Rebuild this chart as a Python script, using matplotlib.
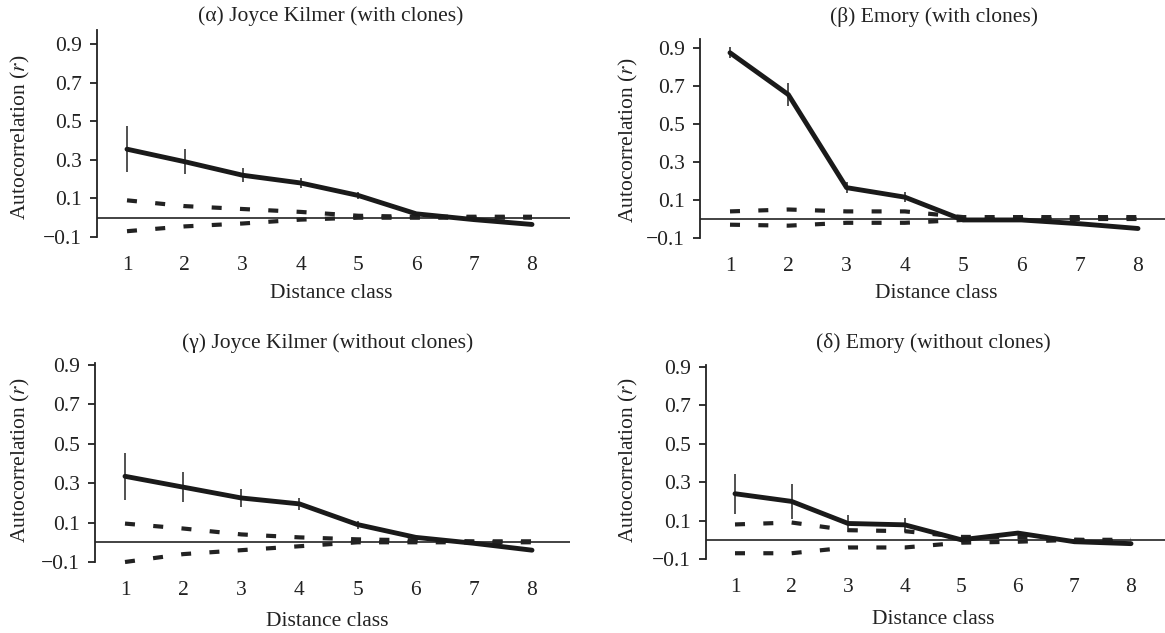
import matplotlib
matplotlib.use("Agg")
import matplotlib.pyplot as plt
import numpy as np

plt.rcParams['font.family'] = ['Liberation Serif', 'DejaVu Serif']
plt.rcParams['mathtext.fontset'] = 'stix'

# distance classes
dist = [1, 2, 3, 4, 5, 6, 7, 8]

# (a) Joyce Kilmer with clones
jk_clones_r = [0.355, 0.29, 0.22, 0.18, 0.115, 0.02, -0.01, -0.035]
jk_clones_err = [0.12, 0.065, 0.035, 0.025, 0.02, 0.0, 0.0, 0.0]
jk_clones_hi = [0.09, 0.06, 0.045, 0.03, 0.01, 0.005, 0.005, 0.005]
jk_clones_lo = [-0.07, -0.045, -0.03, -0.01, 0.0, 0.0, 0.0, 0.0]

# (b) Emory with clones
em_clones_r = [0.875, 0.655, 0.165, 0.115, -0.005, -0.005, -0.025, -0.05]
em_clones_err = [0.03, 0.06, 0.03, 0.025, 0.0, 0.0, 0.0, 0.0]
em_clones_hi = [0.04, 0.05, 0.04, 0.04, 0.01, 0.01, 0.01, 0.01]
em_clones_lo = [-0.03, -0.035, -0.02, -0.02, -0.005, 0.0, 0.0, 0.0]

# (c) Joyce Kilmer without clones
jk_noclones_r = [0.335, 0.28, 0.225, 0.195, 0.09, 0.025, -0.005, -0.04]
jk_noclones_err = [0.12, 0.075, 0.045, 0.03, 0.02, 0.0, 0.0, 0.0]
jk_noclones_hi = [0.095, 0.07, 0.04, 0.025, 0.015, 0.01, 0.005, 0.005]
jk_noclones_lo = [-0.1, -0.06, -0.04, -0.02, 0.0, 0.0, 0.0, 0.0]

# (d) Emory without clones
em_noclones_r = [0.24, 0.2, 0.085, 0.078, 0.0, 0.035, -0.01, -0.02]
em_noclones_err = [0.105, 0.09, 0.045, 0.035, 0.0, 0.0, 0.0, 0.0]
em_noclones_hi = [0.08, 0.09, 0.05, 0.045, 0.015, 0.015, 0.0, 0.0]
em_noclones_lo = [-0.07, -0.07, -0.04, -0.04, -0.015, -0.01, 0.0, -0.01]

titles = ["(\u03b1) Joyce Kilmer (with clones)", "(\u03b2) Emory (with clones)",
          "(\u03b3) Joyce Kilmer (without clones)", "(\u03b4) Emory (without clones)"]
yticks = [-0.1, 0.1, 0.3, 0.5, 0.7, 0.9]
ytick_labels = ["\u22120.1", "0.1", "0.3", "0.5", "0.7", "0.9"]

W, H = 1165, 633
fig = plt.figure(figsize=(W / 100, H / 100), dpi=100)

# pixel layout: x of class 1, x of class 8, y of 0.9, y of -0.1, top of y range
layout = [
    (127, 532, 44, 237, 0.97),
    (730, 1138, 48, 238, 0.95),
    (125, 532, 365, 562, 0.91),
    (735, 1131, 367, 559, 0.91),
]
title_pos = [(331, 16), (934, 17), (328, 343), (933, 343)]
xlab_pos = [(331, 293), (936, 293), (327, 621), (933, 620)]
ylab_pos = [(20, 137), (628, 140), (20, 460), (628, 460)]

panels = [
    (jk_clones_r, jk_clones_err, jk_clones_hi, jk_clones_lo),
    (em_clones_r, em_clones_err, em_clones_hi, em_clones_lo),
    (jk_noclones_r, jk_noclones_err, jk_noclones_hi, jk_noclones_lo),
    (em_noclones_r, em_noclones_err, em_noclones_hi, em_noclones_lo),
]

xlim = (0.49, 8.65)
fs = 15.5

for i, (r, err, hi, lo) in enumerate(panels):
    x1, x8, y09, ym01, ytop = layout[i]
    ux = (x8 - x1) / 7.0
    uy = (ym01 - y09) / 1.0
    left = x1 - (1 - xlim[0]) * ux
    width = (xlim[1] - xlim[0]) * ux
    height = (ytop + 0.1) * uy
    bottom = H - ym01
    ax = fig.add_axes([left / W, bottom / H, width / W, height / H])
    ax.set_xlim(*xlim)
    ax.set_ylim(-0.1, ytop)

    ax.axhline(0, color='#222222', lw=1.2, zorder=1)
    ax.plot(dist, hi, color='#222222', lw=3, dashes=(2.4, 4.4),
            dash_capstyle='butt', clip_on=False, zorder=2)
    ax.plot(dist, lo, color='#222222', lw=3, dashes=(2.4, 4.4),
            dash_capstyle='butt', clip_on=False, zorder=2)
    ax.errorbar(dist, r, yerr=err, fmt='none', ecolor='#222222', elinewidth=1.1,
                capsize=0, zorder=3)
    ax.plot(dist, r, color='#1a1a1a', lw=3.5, solid_capstyle='round', zorder=4,
            clip_on=False)

    for s in ['top', 'right', 'bottom']:
        ax.spines[s].set_visible(False)
    ax.spines['left'].set_linewidth(1.3)
    ax.spines['left'].set_color('#222222')
    ax.set_yticks(yticks)
    ax.set_yticklabels(ytick_labels)
    ax.set_xticks(dist)
    ax.set_xticklabels([str(d) for d in dist])
    ax.tick_params(axis='y', length=5, width=1.3, pad=6, labelsize=fs, colors='#222222')
    ax.tick_params(axis='x', length=0, pad=14, labelsize=fs, colors='#222222')

    tx, ty = title_pos[i]
    fig.text(tx / W, 1 - ty / H, titles[i], ha='center', va='center',
             fontsize=fs, color='#222222')
    lx, ly = xlab_pos[i]
    fig.text(lx / W, 1 - ly / H, "Distance class", ha='center', va='center',
             fontsize=fs, color='#222222')
    yx, yy = ylab_pos[i]
    fig.text(yx / W, 1 - yy / H, "Autocorrelation ($r$)", ha='center', va='center',
             rotation=90, fontsize=fs, color='#222222')

fig.savefig("out.png", dpi=100)
